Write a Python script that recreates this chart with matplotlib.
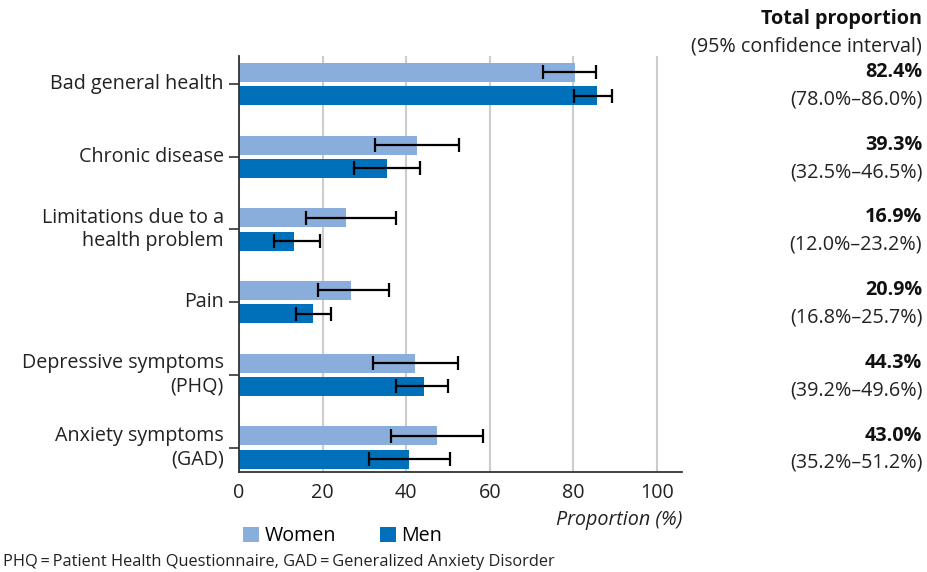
import numpy as np
import matplotlib
matplotlib.use("Agg")
import matplotlib.pyplot as plt
import matplotlib.transforms as mtransforms

plt.rcParams['font.family'] = ['Open Sans', 'DejaVu Sans']

categories = ["Bad general health", "Chronic disease", "Limitations due to a\nhealth problem",
              "Pain", "Depressive symptoms\n(PHQ)", "Anxiety symptoms\n(GAD)"]

women = [80.4, 42.5, 25.5, 26.7, 42.1, 47.3]
women_lo = [72.7, 32.6, 16.1, 18.8, 32.0, 36.3]
women_hi = [85.5, 52.6, 37.5, 35.8, 52.3, 58.3]

men = [85.6, 35.3, 13.1, 17.6, 44.2, 40.6]
men_lo = [80.1, 27.6, 8.3, 13.7, 37.6, 31.0]
men_hi = [89.3, 43.3, 19.4, 21.9, 50.1, 50.4]

total = ["82.4%", "39.3%", "16.9%", "20.9%", "44.3%", "43.0%"]
total_ci = ["(78.0%\u201386.0%)", "(32.5%\u201346.5%)", "(12.0%\u201323.2%)",
            "(16.8%\u201325.7%)", "(39.2%\u201349.6%)", "(35.2%\u201351.2%)"]

c_women = "#8aaedb"
c_men = "#0070ba"
fs = 14.2

fig = plt.figure(figsize=(9.27, 5.72), dpi=100)
ax = fig.add_axes([0.2578, 0.1748, 0.4779, 0.7272])

y = np.arange(len(categories))
off = 0.16
h = 0.26
women = np.array(women); men = np.array(men)
ax.barh(y - off, women, height=h, color=c_women, label="Women", zorder=2)
ax.barh(y + off, men, height=h, color=c_men, label="Men", zorder=2)
ax.errorbar(women, y - off, xerr=[women - np.array(women_lo), np.array(women_hi) - women],
            fmt="none", ecolor="black", elinewidth=1.6, capsize=5, capthick=1.6, zorder=3)
ax.errorbar(men, y + off, xerr=[men - np.array(men_lo), np.array(men_hi) - men],
            fmt="none", ecolor="black", elinewidth=1.6, capsize=5, capthick=1.6, zorder=3)

ax.set_xlim(0, 106)
ax.set_ylim(5.337, -0.385)
ax.set_xticks([0, 20, 40, 60, 80, 100])
ax.tick_params(axis="x", length=0, labelsize=fs, pad=8, colors="#222222")
ax.set_xticks([0], minor=True)
ax.tick_params(axis="x", which="minor", length=6, width=1.2, color="#333333", direction="out")
ax.set_yticks(y)
ax.set_yticklabels(categories, fontsize=fs, linespacing=1.25, va="center")
ax.tick_params(axis="y", length=7, width=1.2, color="#333333", pad=4, labelcolor="#222222")
ax.grid(axis="x", color="#cccccc", linewidth=1.5, zorder=0)
ax.set_axisbelow(True)
for s in ["top", "right"]:
    ax.spines[s].set_visible(False)
for s in ["left", "bottom"]:
    ax.spines[s].set_color("#333333")
    ax.spines[s].set_linewidth(1.3)

ax.text(1.0, -0.092, "Proportion (%)", transform=ax.transAxes, ha="right", va="top",
        fontsize=fs, style="italic", color="#222222")

ax.legend(loc="upper left", bbox_to_anchor=(-0.008, -0.112), ncol=2, frameon=False,
          fontsize=fs, handlelength=0.8, handleheight=0.8, handletextpad=0.3,
          columnspacing=2.2, borderaxespad=0)

# right column: total proportion
trans = mtransforms.blended_transform_factory(fig.transFigure, ax.transData)
fig.text(0.995, 0.966, "Total proportion", ha="right", va="center", fontsize=fs,
         fontweight="bold", color="#111111")
fig.text(0.995, 0.919, "(95% confidence interval)", ha="right", va="center", fontsize=fs,
         color="#222222")
for i in range(len(categories)):
    ax.text(0.995, i - 0.165, total[i], transform=trans, ha="right", va="center",
            fontsize=fs, fontweight="bold", color="#111111")
    ax.text(0.995, i + 0.21, total_ci[i], transform=trans, ha="right", va="center",
            fontsize=fs, color="#222222")

fig.text(0.003, 0.017, "PHQ\u2009=\u2009Patient Health Questionnaire, GAD\u2009=\u2009Generalized Anxiety Disorder",
         ha="left", va="center", fontsize=11.8, color="#222222")

fig.savefig("out.png", dpi=100)
